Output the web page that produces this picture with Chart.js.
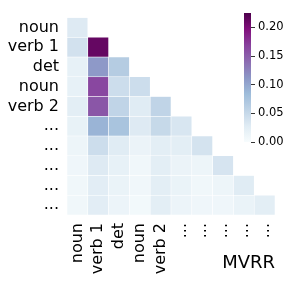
<!DOCTYPE html>
<html>
<head>
<meta charset="utf-8">
<script src="https://cdn.jsdelivr.net/npm/chart.js@4.4.1/dist/chart.umd.min.js"></script>
<style>
  body { margin: 0; background: #fff; }
  #wrap { position: relative; width: 293px; height: 283px; }
  #heat { position: absolute; left: 0; top: 0; }
  #cbar { position: absolute; left: 230px; top: 0; }
</style>
</head>
<body>
<div id="wrap">
  <canvas id="heat" width="293" height="283"></canvas>
  <canvas id="cbar" width="63" height="155"></canvas>
</div>
<script>
// etiquetas de filas / columnas
const rowLabels = ['noun', 'verb 1', 'det', 'noun', 'verb 2', '...', '...', '...', '...', '...'];
const colLabels = ['noun', 'verb 1', 'det', 'noun', 'verb 2', '...', '...', '...', '...', '...'];

// valores (triangulo inferior)
const row0 = [0.030];
const row1 = [0.040, 0.212];
const row2 = [0.020, 0.110, 0.065];
const row3 = [0.020, 0.165, 0.045, 0.045];
const row4 = [0.025, 0.155, 0.055, 0.028, 0.055];
const row5 = [0.018, 0.090, 0.075, 0.030, 0.050, 0.035];
const row6 = [0.012, 0.045, 0.028, 0.015, 0.025, 0.025, 0.038];
const row7 = [0.010, 0.030, 0.020, 0.008, 0.024, 0.015, 0.012, 0.037];
const row8 = [0.008, 0.026, 0.016, 0.008, 0.025, 0.016, 0.008, 0.012, 0.028];
const row9 = [0.008, 0.026, 0.014, 0.006, 0.024, 0.014, 0.010, 0.010, 0.016, 0.024];
const rows = [row0, row1, row2, row3, row4, row5, row6, row7, row8, row9];

const cbarTicks = [0, 0.05, 0.10, 0.15, 0.20];
const vmin = 0;
const vmax = 0.225;

// mapa de color BuPu
const bupu = ['#f7fcfd', '#e0ecf4', '#bfd3e6', '#9ebcda', '#8c96c6', '#8c6bb1', '#88419d', '#810f7c', '#4d004b'];

function hexToRgb(h) {
    return [parseInt(h.substr(1, 2), 16), parseInt(h.substr(3, 2), 16), parseInt(h.substr(5, 2), 16)];
}

function colorFor(v) {
    let t = (v - vmin) / (vmax - vmin);
    t = Math.max(0, Math.min(1, t));
    const pos = t * (bupu.length - 1);
    const i = Math.min(Math.floor(pos), bupu.length - 2);
    const f = pos - i;
    const a = hexToRgb(bupu[i]);
    const b = hexToRgb(bupu[i + 1]);
    const c = a.map((x, k) => Math.round(x + (b[k] - x) * f));
    return 'rgb(' + c[0] + ',' + c[1] + ',' + c[2] + ')';
}

const font = { family: 'DejaVu Sans', size: 16 };

// un dataset por fila, barras flotantes [r, r+1]
const datasets = rows.map((vals, r) => ({
    data: colLabels.map((_, c) => (c < vals.length ? [r, r + 1] : null)),
    backgroundColor: colLabels.map((_, c) => (c < vals.length ? colorFor(vals[c]) : 'rgba(0,0,0,0)')),
    borderColor: 'rgba(255,255,255,0.55)',
    borderWidth: 0.6,
    borderSkipped: false,
    grouped: false,
    barPercentage: 1,
    categoryPercentage: 1
}));

new Chart(document.getElementById('heat'), {
    type: 'bar',
    data: { labels: colLabels, datasets: datasets },
    options: {
        responsive: false,
        animation: false,
        layout: { padding: { top: 7, right: 18, left: 0, bottom: 0 } },
        plugins: { legend: { display: false }, tooltip: { enabled: false } },
        scales: {
            x: {
                grid: { display: false, drawTicks: false },
                border: { display: false },
                ticks: {
                    color: '#000', font: font, padding: 8,
                    minRotation: 90, maxRotation: 90, autoSkip: false
                },
                title: {
                    display: true, text: 'MVRR', align: 'end', color: '#000',
                    font: { family: 'DejaVu Sans', size: 18 }, padding: { top: 0, bottom: 9 }
                },
                afterFit: (s) => { s.height = 68; }
            },
            y: {
                type: 'linear', min: 0, max: 10, reverse: true,
                grid: { display: false, drawTicks: false },
                border: { display: false },
                afterBuildTicks: (s) => { s.ticks = rowLabels.map((_, i) => ({ value: i + 0.5 })); },
                ticks: {
                    color: '#000', font: font, padding: 8, autoSkip: false,
                    callback: (v, i) => rowLabels[i]
                },
                afterFit: (s) => { s.width = 67; }
            }
        }
    }
});

// barra de color
new Chart(document.getElementById('cbar'), {
    type: 'bar',
    data: {
        labels: [''],
        datasets: [{
            data: [[vmin, vmax]],
            barPercentage: 1,
            categoryPercentage: 1,
            borderWidth: 0,
            backgroundColor: (ctx) => {
                const area = ctx.chart.chartArea;
                if (!area) return bupu[0];
                const g = ctx.chart.ctx.createLinearGradient(0, area.bottom, 0, area.top);
                bupu.forEach((c, i) => g.addColorStop(i / (bupu.length - 1), c));
                return g;
            }
        }]
    },
    options: {
        responsive: false,
        animation: false,
        layout: { padding: { top: 13, bottom: 13, left: 14, right: 0 } },
        plugins: { legend: { display: false }, tooltip: { enabled: false } },
        scales: {
            x: { display: false },
            y: {
                position: 'right', min: vmin, max: vmax,
                grid: { drawOnChartArea: false, drawTicks: true, tickLength: 4, color: '#000', lineWidth: 0.8 },
                border: { display: false },
                afterBuildTicks: (s) => { s.ticks = cbarTicks.map((v) => ({ value: v })); },
                ticks: {
                    color: '#000', font: { family: 'DejaVu Sans', size: 11.5 }, padding: 3,
                    callback: (v) => Number(v).toFixed(2)
                },
                afterFit: (s) => { s.width = 42; }
            }
        }
    }
});
</script>
</body>
</html>
